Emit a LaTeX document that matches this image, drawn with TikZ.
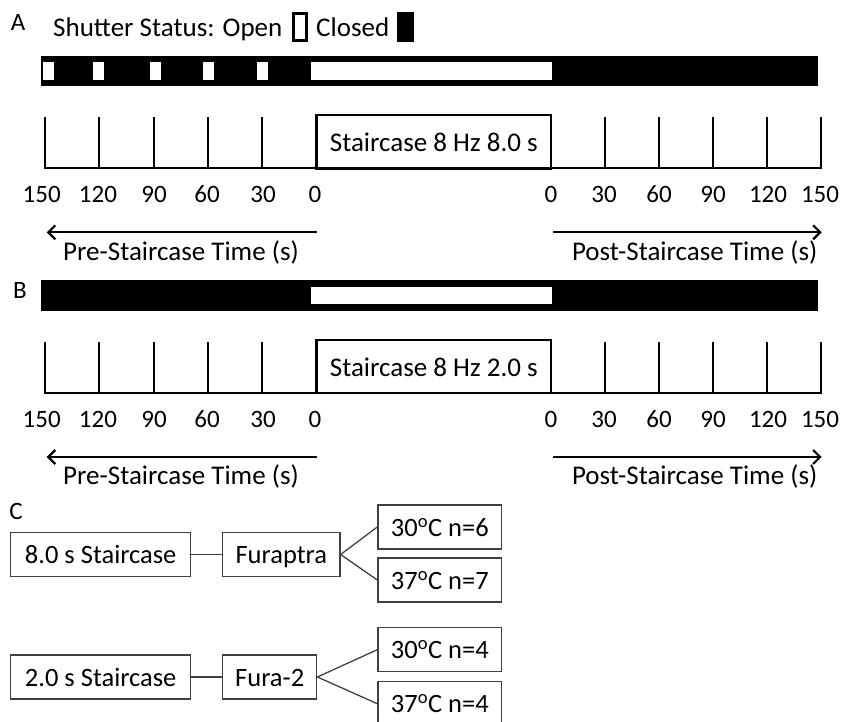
\documentclass[tikz,border=0pt]{standalone}
\usepackage{fontspec}
\setmainfont{Carlito}
\usetikzlibrary{arrows.meta}
\begin{document}
\begin{tikzpicture}[x=1pt,y=-1pt,
  lbl/.style={inner sep=0pt, font=\fontsize{25}{30}\selectfont},
  txt/.style={inner sep=0pt, font=\fontsize{27}{32}\selectfont},
  panel/.style={inner sep=0pt, font=\fontsize{25}{30}\selectfont},
  tickline/.style={line width=2.2pt},
  axisline/.style={line width=2.2pt, line join=miter},
  stairbox/.style={draw, line width=2.4pt, inner sep=0pt, minimum width=234.3pt, minimum height=53.3pt, text height=26.6pt, text depth=6pt, font=\fontsize{27}{32}\selectfont},
  timearrow/.style={line width=2.2pt, -{Straight Barb[length=7pt,width=14pt,line width=2.2pt]}},
  cbox/.style={draw=black!75, line width=1.3pt, inner sep=0pt, minimum height=44pt, text height=24.5pt, text depth=6pt, font=\fontsize{26.5}{31}\selectfont},
  cline/.style={draw=black!75, line width=1.3pt}
]
\useasboundingbox (0,0) rectangle (843,722);
\clip (0,0) rectangle (843,722);

% ---------- Panel A legend ----------
\node[panel] (lblA) at (18,22) {A};
\node[txt, anchor=base west] (shut) at (53,37) {Shutter Status: Open};
\fill (292,12) rectangle (308,42);
\fill[white] (295,15) rectangle (305,39);
\node[txt, anchor=base west] (closed) at (316,37) {Closed};
\fill (397,12) rectangle (414,42);

% ---------- Bar A ----------
\fill (40.7,56) rectangle (818.3,86);
\foreach \a/\b in {43.3/54.3, 93.3/104, 150/161, 203/214, 257/268, 310.7/551.7}
  \fill[white] (\a,61.7) rectangle (\b,80);

% ---------- Bar B ----------
\node[panel] (lblB) at (20,290) {B};
\fill (40.7,280) rectangle (818.3,310.7);
\fill[white] (310.7,286.7) rectangle (551.7,304);

% ---------- Axes (A and B) ----------
\foreach \p/\dy/\dur in {A/0/8.0, B/224.7/2.0} {
  \begin{scope}[yshift=-\dy pt]
    \draw[axisline] (45,117) -- (45,168.3) -- (821,168.3) -- (821,117);
    \foreach \x in {99.3,153.6,207.9,262.2,605,659,713,767}
      \draw[tickline] (\x,117) -- (\x,168.3);
    \node[stairbox] (stair\p) at (433.8,141.7) {Staircase 8 Hz \dur{} s};
    \foreach \x/\t [count=\i] in {41.7/150, 98/120, 154/90, 207/60, 263/30, 315/0,
                                  551/0, 604/30, 659/60, 713/90, 768/120, 820/150}
      \node[lbl, anchor=base] (lab\p\i) at (\x,203) {\t};
    \coordinate (preS\p) at (316.5,232.3);
    \coordinate (preE\p) at (46.7,232.3);
    \coordinate (postS\p) at (553,232.3);
    \coordinate (postE\p) at (821.7,232.3);
    \draw[timearrow] (preS\p) -- (preE\p);
    \draw[timearrow] (postS\p) -- (postE\p);
    \node[txt, anchor=base] (pre\p) at (181,260) {Pre-Staircase Time (s)};
    \node[txt, anchor=base] (post\p) at (694.7,260) {Post-Staircase Time (s)};
  \end{scope}
}

% ---------- Panel C ----------
\node[panel] (lblC) at (16,511) {C};
\node[cbox, minimum width=180pt] (s8) at (100.7,554.5) {8.0 s Staircase};
\node[cbox, minimum width=117.3pt] (fur) at (281.3,554.5) {Furaptra};
\node[cbox, minimum width=123.7pt] (n6) at (439.8,527) {30\textsuperscript{o}C n=6};
\node[cbox, minimum width=123.7pt] (n7) at (439.8,580) {37\textsuperscript{o}C n=7};
\node[cbox, minimum width=180pt] (s2) at (100.7,677) {2.0 s Staircase};
\node[cbox, minimum width=94pt] (f2) at (269.7,677) {Fura-2};
\node[cbox, minimum width=123.7pt] (n4a) at (439.8,649.7) {30\textsuperscript{o}C n=4};
\node[cbox, minimum width=123.7pt] (n4b) at (439.8,703.7) {37\textsuperscript{o}C n=4};
\draw[cline] (s8) -- (fur);
\draw[cline] (fur.east) -- (n6.west);
\draw[cline] (fur.east) -- (n7.west);
\draw[cline] (s2) -- (f2);
\draw[cline] (f2.east) -- (n4a.west);
\draw[cline] (f2.east) -- (n4b.west);
\end{tikzpicture}
\end{document}
